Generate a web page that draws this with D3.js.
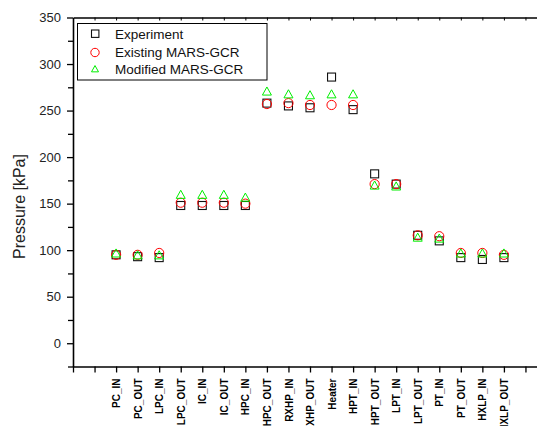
<!DOCTYPE html>
<html>
<head>
<meta charset="utf-8">
<script src="https://cdn.jsdelivr.net/npm/d3@7"></script>
<style>
  body { margin: 0; background: #fff; }
  text { font-family: Arial, "Liberation Sans", sans-serif; }
</style>
</head>
<body>
<div id="chart"></div>
<script>
// data
var categories = ["PC_IN", "PC_OUT", "LPC_IN", "LPC_OUT", "IC_IN", "IC_OUT", "HPC_IN", "HPC_OUT",
    "RXHP_IN", "RXHP_OUT", "Heater", "HPT_IN", "HPT_OUT", "LPT_IN", "LPT_OUT", "PT_IN",
    "PT_OUT", "HXLP_IN", "HXLP_OUT"];
var experiment = [95, 93, 92, 148, 148, 148, 148, 258, 255, 253, 286, 251, 182, 171, 116, 110, 92, 90, 92];
var existing = [95, 95, 97, 151, 151, 151, 150, 257, 258, 256, 256, 256, 171, 171, 116, 115, 97, 97, 95];
var modified = [97, 95, 95, 160, 160, 160, 157, 271, 268, 267, 268, 268, 170, 169, 114, 113, 97, 97, 97];
var yTicks = [0, 50, 100, 150, 200, 250, 300, 350];
var seriesNames = ["Experiment", "Existing MARS-GCR", "Modified MARS-GCR"];

var svgWidth = 537;
var svgHeight = 426;

var margin = { top: 17.5, left: 73, bottom: 59.5 };
var plotRight = 547; // frame runs past the right edge of the picture

var svg = d3.select("#chart")
    .append("svg")
    .attr("width", svgWidth)
    .attr("height", svgHeight);

var xScale = d3.scaleLinear()
    .domain([-1, 21])
    .range([margin.left, plotRight]);

var yScale = d3.scaleLinear()
    .domain([-25, 350])
    .range([svgHeight - margin.bottom, margin.top]);

// y axis with minor ticks
var minorTicks = d3.range(-25, 351, 50);
svg.append("g")
    .attr("transform", `translate(${margin.left},0)`)
    .call(d3.axisLeft(yScale).tickValues(minorTicks).tickSize(5).tickFormat(""))
    .call(g => g.select(".domain").remove());

var yAxis = svg.append("g")
    .attr("transform", `translate(${margin.left},0)`)
    .call(d3.axisLeft(yScale).tickValues(yTicks).tickSize(6).tickSizeOuter(0).tickPadding(6));
yAxis.selectAll("text")
    .attr("font-size", "13px")
    .attr("font-family", "Arial, 'Liberation Sans', sans-serif")
    .attr("fill", "#222");

svg.selectAll(".tick line").attr("stroke", "#000").attr("stroke-width", 1.3);
yAxis.select(".domain").attr("stroke", "#000").attr("stroke-width", 1.6);

// bottom axis
var xAxis = svg.append("g")
    .attr("transform", `translate(0,${yScale(-25)})`)
    .call(d3.axisBottom(xScale)
        .tickValues(d3.range(-1, 21))
        .tickSize(6)
        .tickSizeOuter(0)
        .tickFormat(i => categories[i - 1] || ""));
xAxis.select(".domain").attr("stroke", "#000").attr("stroke-width", 1.6);
xAxis.selectAll("line").attr("stroke", "#000").attr("stroke-width", 1.3);
xAxis.selectAll("text")
    .attr("transform", "rotate(-90)")
    .attr("text-anchor", "end")
    .attr("x", -12)
    .attr("y", 0)
    .attr("dy", "0.36em")
    .attr("font-size", "10px")
    .attr("font-weight", "bold")
    .attr("font-family", "Arial, 'Liberation Sans', sans-serif")
    .attr("fill", "#000");

// top frame with inward ticks
var topAxis = svg.append("g")
    .attr("transform", `translate(0,${margin.top})`)
    .call(d3.axisTop(xScale).tickValues(d3.range(0, 21)).tickSize(-3).tickSizeOuter(0).tickFormat(""));
topAxis.select(".domain").attr("stroke", "#000").attr("stroke-width", 1.6);
topAxis.selectAll("line").attr("stroke", "#000").attr("stroke-width", 1);

// y label
svg.append("text")
    .attr("transform", `translate(25,${(153 + 260) / 2}) rotate(-90)`)
    .attr("text-anchor", "middle")
    .attr("font-size", "16px")
    .attr("fill", "#222")
    .text("Pressure [kPa]");

// markers
function trianglePath(s) {
    var h = s * 0.9;
    return `M0,${-h / 2}L${s / 2},${h / 2}L${-s / 2},${h / 2}Z`;
}

var pointsGroup = svg.append("g");

pointsGroup.selectAll(".exp")
    .data(experiment)
    .enter()
    .append("rect")
    .attr("class", "exp")
    .attr("x", (d, i) => xScale(i + 1) - 4)
    .attr("y", d => yScale(d) - 4)
    .attr("width", 8)
    .attr("height", 8)
    .attr("fill", "none")
    .attr("stroke", "#111")
    .attr("stroke-width", 1.1);

pointsGroup.selectAll(".exist")
    .data(existing)
    .enter()
    .append("circle")
    .attr("class", "exist")
    .attr("cx", (d, i) => xScale(i + 1))
    .attr("cy", d => yScale(d))
    .attr("r", 4.6)
    .attr("fill", "none")
    .attr("stroke", "#ff0000")
    .attr("stroke-width", 1);

pointsGroup.selectAll(".mod")
    .data(modified)
    .enter()
    .append("path")
    .attr("class", "mod")
    .attr("d", trianglePath(9))
    .attr("transform", (d, i) => `translate(${xScale(i + 1)},${yScale(d)})`)
    .attr("fill", "none")
    .attr("stroke", "#00ee00")
    .attr("stroke-width", 1);

// legend
var legend = svg.append("g");
legend.append("rect")
    .attr("x", 77.5)
    .attr("y", 23.5)
    .attr("width", 189.5)
    .attr("height", 56.5)
    .attr("fill", "#fff")
    .attr("stroke", "#000")
    .attr("stroke-width", 1);

var legendY = [33.7, 52.5, 68.7];
legend.append("rect")
    .attr("x", 91.5).attr("y", legendY[0] - 3.7)
    .attr("width", 7.4).attr("height", 7.4)
    .attr("fill", "none").attr("stroke", "#111").attr("stroke-width", 1.1);
legend.append("circle")
    .attr("cx", 95).attr("cy", legendY[1]).attr("r", 4.2)
    .attr("fill", "none").attr("stroke", "#ff0000");
legend.append("path")
    .attr("d", trianglePath(7))
    .attr("transform", `translate(95,${legendY[2]})`)
    .attr("fill", "none").attr("stroke", "#00ee00");

legend.selectAll(".legendText")
    .data(seriesNames)
    .enter()
    .append("text")
    .attr("class", "legendText")
    .attr("x", 115)
    .attr("y", (d, i) => legendY[i] + 4.8)
    .attr("font-size", "13.5px")
    .attr("fill", "#111")
    .text(d => d);
</script>
</body>
</html>
